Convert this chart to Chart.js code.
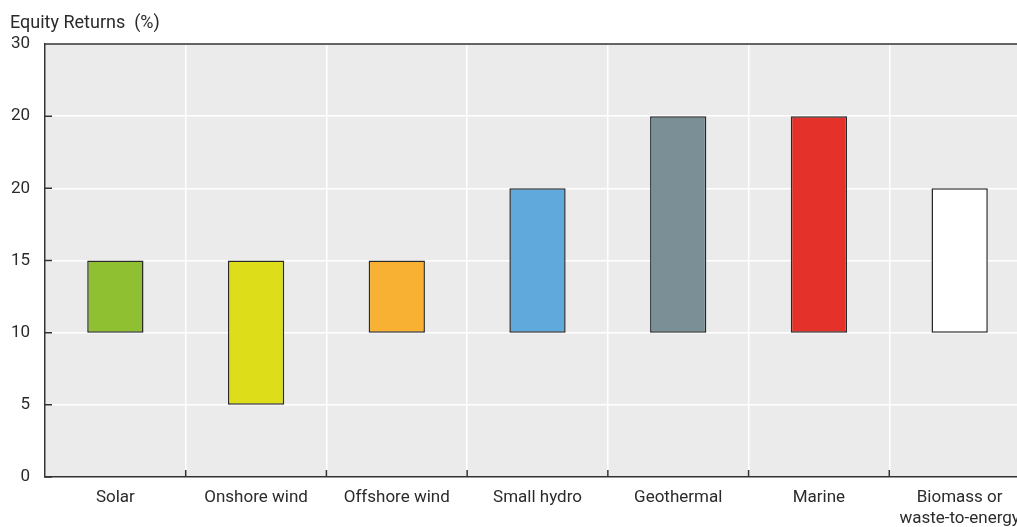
<!DOCTYPE html>
<html>
<head>
<meta charset="utf-8">
<script src="https://cdn.jsdelivr.net/npm/chart.js@4/dist/chart.umd.min.js"></script>
<style>
  body { margin: 0; background: #fff; overflow: hidden; }
  #wrap { width: 1040px; height: 527px; position: relative; }
</style>
</head>
<body>
<div id="wrap"><canvas id="returnsChart"></canvas></div>
<script>
const categories = ['Solar', 'Onshore wind', 'Offshore wind', 'Small hydro', 'Geothermal', 'Marine', ['Biomass or', 'waste-to-energy']];
const lowValues = [10, 5, 10, 10, 10, 10, 10];
const highValues = [15, 15, 15, 20, 25, 25, 20];
const yTickLabels = ['0', '5', '10', '15', '20', '20', '30'];
const barColors = ['#8fc031', '#dedd1a', '#f8b133', '#60a9dd', '#7b8f97', '#e4322b', '#ffffff'];

const FONT = "'Liberation Sans Narrow', 'Roboto', sans-serif";
const TEXT = '#2b2b2b';

// background, top border, inner tick marks and the title
const decor = {
  id: 'decor',
  beforeDraw(chart) {
    const { ctx, chartArea: a } = chart;
    ctx.save();
    ctx.fillStyle = '#ebebeb';
    ctx.fillRect(a.left, a.top, a.right - a.left, a.bottom - a.top);
    ctx.restore();
  },
  afterDraw(chart) {
    const { ctx, chartArea: a, scales } = chart;
    ctx.save();
    ctx.strokeStyle = '#333';
    ctx.lineWidth = 1.5;
    ctx.beginPath();
    ctx.moveTo(a.left, a.top);
    ctx.lineTo(a.right, a.top);
    // y ticks pointing inward
    scales.y.ticks.forEach((t, i) => {
      const y = scales.y.getPixelForTick(i);
      ctx.moveTo(a.left, y);
      ctx.lineTo(a.left + 7, y);
    });
    // x ticks at category boundaries pointing up
    for (let i = 1; i < categories.length; i++) {
      const x = (scales.x.getPixelForValue(i - 1) + scales.x.getPixelForValue(i)) / 2;
      ctx.moveTo(x, a.bottom);
      ctx.lineTo(x, a.bottom - 7);
    }
    ctx.stroke();
    ctx.fillStyle = TEXT;
    ctx.font = '18px ' + FONT;
    ctx.textBaseline = 'alphabetic';
    ctx.fillText('Equity Returns  (%)', 10, 28);
    ctx.restore();
  }
};

const ctx = document.getElementById('returnsChart').getContext('2d');
new Chart(ctx, {
  type: 'bar',
  data: {
    labels: categories,
    datasets: [{
      data: lowValues.map((lo, i) => [lo, highValues[i]]),
      backgroundColor: barColors,
      borderColor: '#2a2a2a',
      borderWidth: 1.5,
      borderSkipped: false,
      categoryPercentage: 1,
      barPercentage: 0.4
    }]
  },
  options: {
    responsive: true,
    maintainAspectRatio: false,
    animation: false,
    layout: { padding: { top: 44, right: 10, left: 0, bottom: 0 } },
    plugins: {
      legend: { display: false },
      tooltip: { enabled: false }
    },
    scales: {
      x: {
        grid: { color: '#ffffff', lineWidth: 1.5, drawTicks: false, offset: true },
        border: { color: '#333', width: 1.5 },
        ticks: { color: TEXT, font: { family: FONT, size: 17, lineHeight: 1.25 }, padding: 10, maxRotation: 0, autoSkip: false },
        afterFit(scale) { scale.height = 50; }
      },
      y: {
        min: 0,
        max: 30,
        grid: { color: '#ffffff', lineWidth: 1.5, drawTicks: false },
        border: { color: '#333', width: 1.5 },
        ticks: {
          stepSize: 5,
          color: TEXT,
          font: { family: FONT, size: 17 },
          padding: 15,
          callback: (v, i) => yTickLabels[i]
        },
        afterFit(scale) { scale.width = 45; }
      }
    }
  },
  plugins: [decor]
});
</script>
</body>
</html>
